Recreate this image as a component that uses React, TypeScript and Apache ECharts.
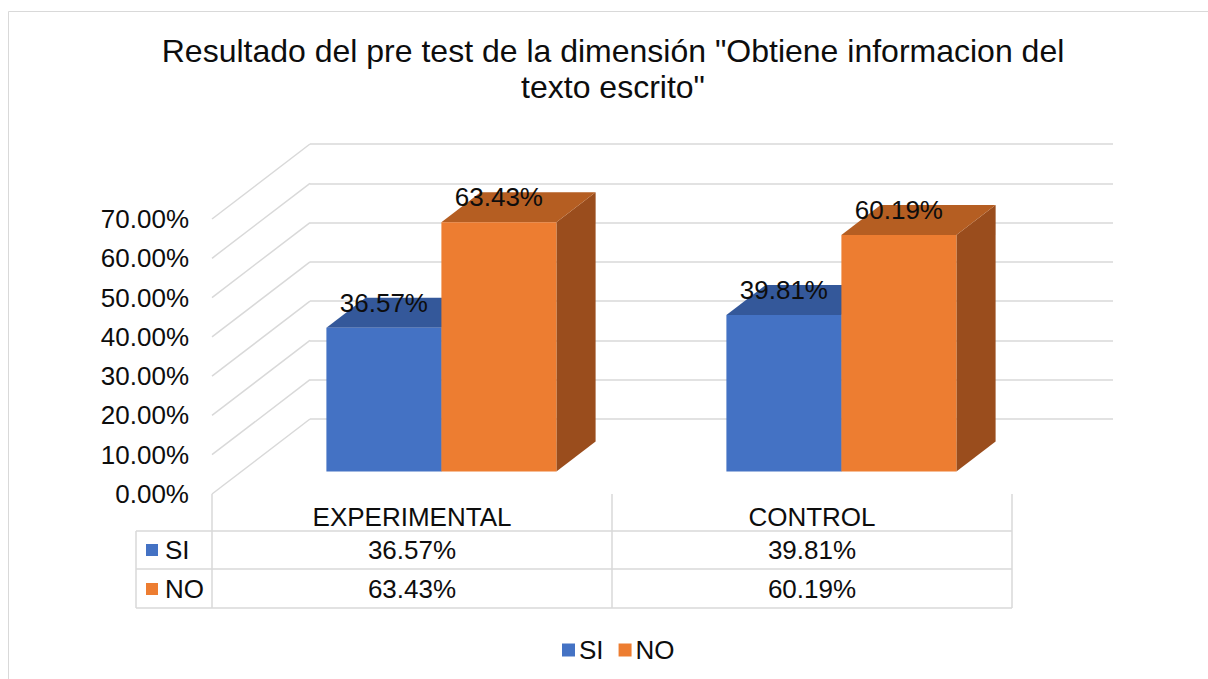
import React, { useEffect, useRef } from "react";
import * as echarts from "echarts";

// ---- data ----
const titleText = 'Resultado del pre test de la dimensión "Obtiene informacion del\ntexto escrito"';
const categories = ["EXPERIMENTAL", "CONTROL"];
const seriesNames = ["SI", "NO"];
const siValues = [36.57, 39.81];
const noValues = [63.43, 60.19];
const yTicks = [0, 10, 20, 30, 40, 50, 60, 70];

// ---- style ----
const FONT = '"Liberation Sans", Arial, sans-serif';
const TEXT = "#0d0d0d";
const GRID = "#d9d9d9";
const faceColors = [
  { front: "#4472C4", top: "#34589a", side: "#2c4c86" },
  { front: "#ED7D31", top: "#b55e22", side: "#9a4d1d" },
];
const DX = 98; // depth offset (x)
const DY = -75; // depth offset (y)
const FRONT_D = 0.3;
const BACK_D = 0.7;
const BAR_RATIO = 0.2875;

const fmt = (v: number) => v.toFixed(2) + "%";

export default function App() {
  const ref = useRef<HTMLDivElement>(null);
  useEffect(() => {
    if (!ref.current) return;
    const chart = echarts.init(ref.current, null, { renderer: "svg" });
    const allValues = [siValues, noValues];

    const barSeries = allValues.map((vals, si) => ({
      type: "custom",
      name: seriesNames[si],
      xAxisIndex: 0,
      yAxisIndex: 0,
      itemStyle: { color: faceColors[si].front },
      data: vals.map((v, i) => [i, v]),
      renderItem: (params: any, api: any) => {
        const cat = api.value(0);
        const val = api.value(1);
        const base = api.coord([cat, 0]);
        const top = api.coord([cat, val]);
        const band = api.size([1, 0])[0];
        const bw = band * BAR_RATIO;
        const x0 = base[0] + (si === 0 ? -bw : 0) + DX * FRONT_D;
        const x1 = x0 + bw;
        const yb = base[1] + DY * FRONT_D;
        const yt = top[1] + DY * FRONT_D;
        const ddx = DX * (BACK_D - FRONT_D);
        const ddy = DY * (BACK_D - FRONT_D);
        const c = faceColors[si];
        return {
          type: "group",
          children: [
            {
              type: "polygon",
              shape: { points: [[x1, yt], [x1 + ddx, yt + ddy], [x1 + ddx, yb + ddy], [x1, yb]] },
              style: { fill: c.side },
            },
            {
              type: "polygon",
              shape: { points: [[x0, yt], [x1, yt], [x1 + ddx, yt + ddy], [x0 + ddx, yt + ddy]] },
              style: { fill: c.top },
            },
            {
              type: "rect",
              shape: { x: x0, y: yt, width: bw, height: yb - yt },
              style: { fill: c.front },
            },
            {
              type: "text",
              z2: 100,
              style: {
                text: fmt(val),
                x: x0 + bw / 2,
                y: yt - 25,
                align: "center",
                verticalAlign: "middle",
                fontSize: 26,
                fontFamily: FONT,
                fill: TEXT,
              },
            },
          ],
        };
      },
    }));

    const wallSeries = {
      type: "custom",
      name: "wall",
      xAxisIndex: 0,
      yAxisIndex: 0,
      silent: true,
      z: 1,
      data: yTicks.map((v) => [0, v]),
      renderItem: (params: any, api: any) => {
        const p = api.coord([0, api.value(1)]);
        const x = params.coordSys.x;
        return {
          type: "line",
          shape: { x1: x, y1: p[1], x2: x + DX, y2: p[1] + DY },
          style: { stroke: GRID, lineWidth: 1.5 },
        };
      },
    };

    // table (built from the data arrays)
    const rowY = [550, 589];
    const colX = categories.map((_, i) => 412 + i * 400);
    const tableGraphics: any[] = [];
    [531, 569, 608].forEach((y) =>
      tableGraphics.push({
        type: "line",
        shape: { x1: 136, y1: y, x2: 1012, y2: y },
        style: { stroke: GRID, lineWidth: 1.5 },
      })
    );
    tableGraphics.push({
      type: "line",
      shape: { x1: 136, y1: 531, x2: 136, y2: 608 },
      style: { stroke: GRID, lineWidth: 1.5 },
    });
    allValues.forEach((vals, si) => {
      tableGraphics.push({
        type: "rect",
        shape: { x: 146, y: rowY[si] - 6, width: 12, height: 12 },
        style: { fill: faceColors[si].front },
      });
      tableGraphics.push({
        type: "text",
        x: 165,
        y: rowY[si],
        style: {
          text: seriesNames[si],
          align: "left",
          verticalAlign: "middle",
          fontSize: 26,
          fontFamily: FONT,
          fill: TEXT,
        },
      });
      vals.forEach((v, ci) => {
        tableGraphics.push({
          type: "text",
          x: colX[ci],
          y: rowY[si],
          style: {
            text: fmt(v),
            align: "center",
            verticalAlign: "middle",
            fontSize: 26,
            fontFamily: FONT,
            fill: TEXT,
          },
        });
      });
    });
    tableGraphics.push({
      type: "rect",
      shape: { x: 8.5, y: 11.5, width: 1400, height: 900 },
      style: { fill: "none", stroke: GRID, lineWidth: 1 },
      silent: true,
    });

    chart.setOption({
      animation: false,
      backgroundColor: "#fff",
      title: {
        text: titleText,
        left: 613,
        top: 33,
        padding: 0,
        textAlign: "center",
        textStyle: {
          fontSize: 32,
          lineHeight: 36,
          fontWeight: "normal",
          fontFamily: FONT,
          color: TEXT,
        },
      },
      legend: {
        data: seriesNames.map((n, i) => ({ name: n, itemStyle: { color: faceColors[i].front } })),
        left: 557,
        top: 632,
        icon: "rect",
        itemWidth: 13,
        itemHeight: 13,
        itemGap: 15,
        textStyle: { fontSize: 26, fontFamily: FONT, color: TEXT, padding: [0, 0, 0, -1] },
      },
      grid: [
        { left: 212, right: 196, top: 219, bottom: 185 },
        { left: 310, right: 95, top: 144, bottom: 260 },
      ],
      xAxis: [
        {
          type: "category",
          gridIndex: 0,
          data: categories,
          axisLine: { show: false },
          axisTick: { show: true, length: 114, lineStyle: { color: GRID, width: 1.5 } },
          axisLabel: { fontSize: 26, fontFamily: FONT, color: TEXT, margin: 10 },
        },
        { type: "category", gridIndex: 1, data: categories, show: false },
      ],
      yAxis: [
        {
          type: "value",
          gridIndex: 0,
          min: 0,
          max: 70,
          interval: 10,
          axisLine: { show: false },
          axisTick: { show: false },
          splitLine: { show: false },
          axisLabel: {
            fontSize: 26,
            fontFamily: FONT,
            color: TEXT,
            margin: 23,
            formatter: (v: number) => fmt(v),
          },
        },
        {
          type: "value",
          gridIndex: 1,
          min: 0,
          max: 70,
          interval: 10,
          axisLine: { show: false },
          axisTick: { show: false },
          axisLabel: { show: false },
          splitLine: { show: true, lineStyle: { color: GRID, width: 1.5 } },
        },
      ],
      graphic: tableGraphics,
      series: [wallSeries, ...barSeries],
    });
    return () => chart.dispose();
  }, []);
  return (
    <div
      ref={ref}
      style={{ position: "fixed", left: 0, top: 0, width: 1208, height: 679, background: "#fff" }}
    />
  );
}
